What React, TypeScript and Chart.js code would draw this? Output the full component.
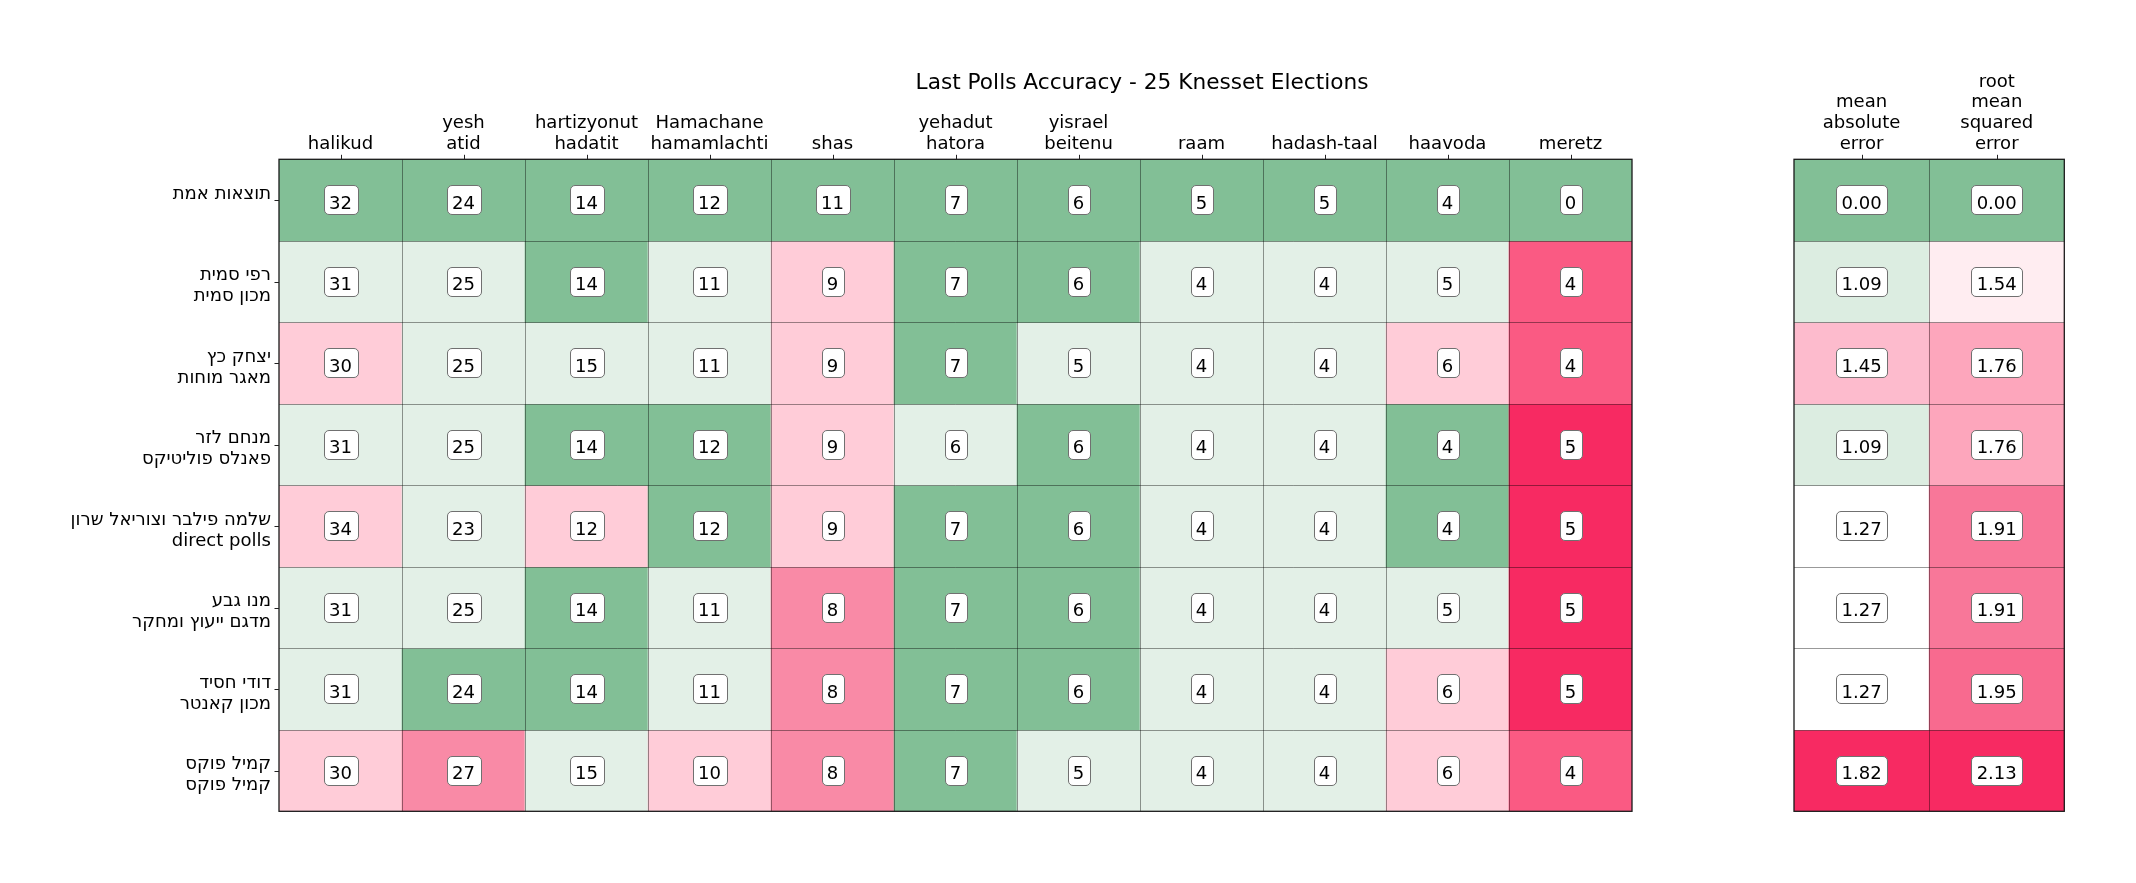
import React, { useEffect, useRef } from 'react';
import { Chart, registerables } from 'chart.js';

Chart.register(...registerables);

// ---------- data ----------
const chartTitle = 'Last Polls Accuracy - 25 Knesset Elections';

const partyLabels: string[][] = [
  ['halikud'],
  ['yesh', 'atid'],
  ['hartizyonut', 'hadatit'],
  ['Hamachane', 'hamamlachti'],
  ['shas'],
  ['yehadut', 'hatora'],
  ['yisrael', 'beitenu'],
  ['raam'],
  ['hadash-taal'],
  ['haavoda'],
  ['meretz'],
];

const pollsterLabels: string[][] = [
  ['תוצאות אמת', ''],
  ['רפי סמית', 'מכון סמית'],
  ['יצחק כץ', 'מאגר מוחות'],
  ['מנחם לזר', 'פאנלס פוליטיקס'],
  ['שלמה פילבר וצוריאל שרון', 'direct polls'],
  ['מנו גבע', 'מדגם ייעוץ ומחקר'],
  ['דודי חסיד', 'מכון קאנטר'],
  ['קמיל פוקס', 'קמיל פוקס'],
];

const actualResults = [32, 24, 14, 12, 11, 7, 6, 5, 5, 4, 0];
const smithPoll = [31, 25, 14, 11, 9, 7, 6, 4, 4, 5, 4];
const katzPoll = [30, 25, 15, 11, 9, 7, 5, 4, 4, 6, 4];
const lazarPoll = [31, 25, 14, 12, 9, 6, 6, 4, 4, 4, 5];
const directPoll = [34, 23, 12, 12, 9, 7, 6, 4, 4, 4, 5];
const gevaPoll = [31, 25, 14, 11, 8, 7, 6, 4, 4, 5, 5];
const kantarPoll = [31, 24, 14, 11, 8, 7, 6, 4, 4, 6, 5];
const fuchsPoll = [30, 27, 15, 10, 8, 7, 5, 4, 4, 6, 4];

const pollRows = [actualResults, smithPoll, katzPoll, lazarPoll, directPoll, gevaPoll, kantarPoll, fuchsPoll];

const metricLabels: string[][] = [
  ['mean', 'absolute', 'error'],
  ['root', 'mean', 'squared', 'error'],
];
const maeValues = [0.0, 1.09, 1.45, 1.09, 1.27, 1.27, 1.27, 1.82];
const rmseValues = [0.0, 1.54, 1.76, 1.76, 1.91, 1.91, 1.95, 2.13];

// ---------- styles ----------
const W = 2136;
const H = 883;
const FONT = '"DejaVu Sans", "Noto Sans", sans-serif';
const FS = 18.06;
const TITLE_FS = 21.67;

const diffPalette = ['#82BF96', '#E3F0E7', '#FFCCD8', '#F98AA6', '#FA5A83', '#F72A62'];
const maeColors = ['#82BF96', '#DCEDE1', '#FDBBCD', '#DCEDE1', '#FFFFFF', '#FFFFFF', '#FFFFFF', '#F72A62'];
const rmseColors = ['#82BF96', '#FFEDF1', '#FDA6BC', '#FDA6BC', '#F87799', '#F87799', '#F86A8F', '#F72A62'];

const mainArea = { left: 279, right: 1632, top: 159.3, bottom: 811.3 };
const metricArea = { left: 1794, right: 2064.3, top: 159.3, bottom: 811.3 };

function cellColor(rowIdx: number, colIdx: number): string {
  const d = Math.abs(pollRows[rowIdx][colIdx] - actualResults[colIdx]);
  return diffPalette[Math.min(d, diffPalette.length - 1)];
}

function drawBox(ctx: CanvasRenderingContext2D, text: string, cx: number, cy: number) {
  ctx.font = `${FS}px ${FONT}`;
  const tw = ctx.measureText(text).width;
  const pad = 5.4;
  const w = Math.round(tw + 2 * pad);
  const h = 29;
  const left = Math.round(cx - w / 2) + 0.5;
  const top = Math.round(cy - 15) + 0.5;
  ctx.beginPath();
  (ctx as any).roundRect(left, top, w, h, 4.5);
  ctx.fillStyle = '#ffffff';
  ctx.fill();
  ctx.strokeStyle = '#707070';
  ctx.lineWidth = 1;
  ctx.stroke();
  ctx.fillStyle = '#000000';
  ctx.textAlign = 'center';
  ctx.textBaseline = 'alphabetic';
  ctx.fillText(text, cx, cy + 8.5);
}

type OverlayOpts = {
  colLabels: string[][];
  rowLabels: string[][] | null;
  cellText: (r: number, c: number) => string;
  title: boolean;
};

function makeOverlay(o: OverlayOpts) {
  return {
    id: 'overlay',
    afterDatasetsDraw(chart: any) {
      const ctx: CanvasRenderingContext2D = chart.ctx;
      const a = chart.chartArea;
      const x = chart.scales.x;
      const y = chart.scales.y;
      const nCols = o.colLabels.length;
      const nRows = pollRows.length;
      const colW = (a.right - a.left) / nCols;
      ctx.save();

      // inner cell borders
      ctx.strokeStyle = 'rgba(0,0,0,0.4)';
      ctx.lineWidth = 1;
      for (let c = 1; c < nCols; c++) {
        const px = Math.round(x.getPixelForValue(c) - colW / 2) + 0.5;
        ctx.beginPath();
        ctx.moveTo(px, a.top);
        ctx.lineTo(px, a.bottom);
        ctx.stroke();
      }
      for (let r = 1; r < nRows; r++) {
        const py = Math.round(y.getPixelForValue(r)) + 0.5;
        ctx.beginPath();
        ctx.moveTo(a.left, py);
        ctx.lineTo(a.right, py);
        ctx.stroke();
      }

      // outer frame
      ctx.strokeStyle = '#1a1a1a';
      ctx.lineWidth = 1.3;
      ctx.strokeRect(a.left, a.top, a.right - a.left, a.bottom - a.top);

      // top ticks + column labels
      ctx.fillStyle = '#000';
      ctx.font = `${FS}px ${FONT}`;
      ctx.textAlign = 'center';
      ctx.textBaseline = 'alphabetic';
      for (let c = 0; c < nCols; c++) {
        const cx = x.getPixelForValue(c);
        ctx.strokeStyle = '#222';
        ctx.lineWidth = 1;
        ctx.beginPath();
        ctx.moveTo(Math.round(cx) + 0.5, a.top);
        ctx.lineTo(Math.round(cx) + 0.5, a.top - 4.5);
        ctx.stroke();
        const lines = o.colLabels[c];
        const lastBase = a.top - 10.3;
        for (let i = 0; i < lines.length; i++) {
          const by = lastBase - (lines.length - 1 - i) * 20.8;
          ctx.fillText(lines[i], cx, by);
        }
      }

      // left ticks + row labels
      if (o.rowLabels) {
        ctx.textAlign = 'right';
        for (let r = 0; r < nRows; r++) {
          const cy = y.getPixelForValue(r + 0.5);
          ctx.strokeStyle = '#222';
          ctx.lineWidth = 1;
          ctx.beginPath();
          ctx.moveTo(a.left, Math.round(cy) + 0.5);
          ctx.lineTo(a.left - 4.5, Math.round(cy) + 0.5);
          ctx.stroke();
          const lines = o.rowLabels[r];
          for (let i = 0; i < lines.length; i++) {
            if (!lines[i]) continue;
            ctx.fillText(lines[i], a.left - 8, cy - 1.2 + i * 20.8);
          }
        }
      }

      // value boxes
      for (let r = 0; r < nRows; r++) {
        const cy = y.getPixelForValue(r + 0.5);
        for (let c = 0; c < nCols; c++) {
          drawBox(ctx, o.cellText(r, c), x.getPixelForValue(c), cy);
        }
      }

      if (o.title) {
        ctx.fillStyle = '#000';
        ctx.font = `${TITLE_FS}px ${FONT}`;
        ctx.textAlign = 'center';
        ctx.fillText(chartTitle, 1142, 89.3);
      }
      ctx.restore();
    },
  };
}

function buildConfig(
  labels: string[],
  colors: string[][],
  area: { left: number; right: number; top: number; bottom: number },
  overlay: any
): any {
  const nCols = labels.length;
  const datasets = pollRows.map((_, r) => ({
    label: `row${r}`,
    data: Array.from({ length: nCols }, () => [r, r + 1]),
    backgroundColor: colors[r],
    borderWidth: 0,
    barPercentage: 1,
    categoryPercentage: 1,
    grouped: false,
  }));
  return {
    type: 'bar',
    data: { labels, datasets },
    options: {
      animation: false,
      responsive: false,
      devicePixelRatio: 1,
      indexAxis: 'x',
      layout: {
        padding: {
          left: area.left,
          right: W - area.right,
          top: area.top,
          bottom: H - area.bottom,
        },
      },
      plugins: { legend: { display: false }, tooltip: { enabled: false }, title: { display: false } },
      scales: {
        x: { type: 'category', display: false, offset: true },
        y: { type: 'linear', display: false, min: 0, max: pollRows.length, reverse: true },
      },
    },
    plugins: [overlay],
  };
}

export default function App() {
  const mainRef = useRef<HTMLCanvasElement>(null);
  const metricRef = useRef<HTMLCanvasElement>(null);

  useEffect(() => {
    const mainColors = pollRows.map((row, r) => row.map((_, c) => cellColor(r, c)));
    const mainChart = new Chart(
      mainRef.current as HTMLCanvasElement,
      buildConfig(
        partyLabels.map((l) => l.join(' ')),
        mainColors,
        mainArea,
        makeOverlay({
          colLabels: partyLabels,
          rowLabels: pollsterLabels,
          cellText: (r, c) => String(pollRows[r][c]),
          title: true,
        })
      )
    );
    const metricColorRows = pollRows.map((_, r) => [maeColors[r], rmseColors[r]]);
    const metricChart = new Chart(
      metricRef.current as HTMLCanvasElement,
      buildConfig(
        metricLabels.map((l) => l.join(' ')),
        metricColorRows,
        metricArea,
        makeOverlay({
          colLabels: metricLabels,
          rowLabels: null,
          cellText: (r, c) => (c === 0 ? maeValues[r] : rmseValues[r]).toFixed(2),
          title: false,
        })
      )
    );
    return () => {
      mainChart.destroy();
      metricChart.destroy();
    };
  }, []);

  const canvasStyle: React.CSSProperties = {
    position: 'absolute',
    left: 0,
    top: 0,
    width: W,
    height: H,
  };

  return (
    <div style={{ position: 'fixed', left: 0, top: 0, width: W, height: H, background: '#fff' }}>
      <canvas ref={mainRef} width={W} height={H} style={canvasStyle} />
      <canvas ref={metricRef} width={W} height={H} style={canvasStyle} />
    </div>
  );
}
